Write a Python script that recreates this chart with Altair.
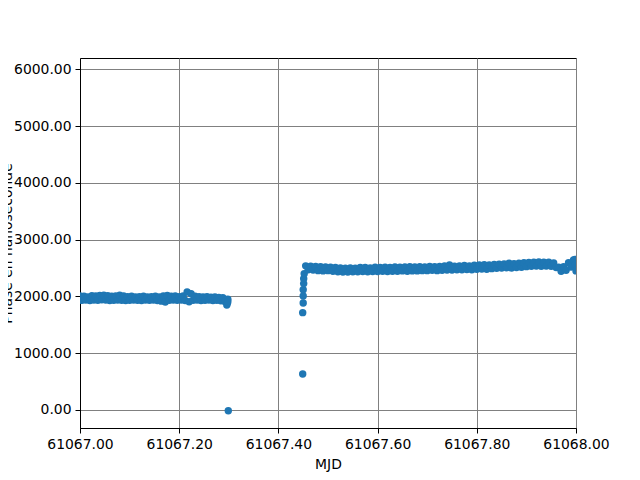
import altair as alt
import pandas as pd

# ---- data ----
seg1_mjd = [
    61067.000, 61067.004, 61067.008, 61067.012, 61067.016, 61067.020, 61067.024, 61067.028,
    61067.032, 61067.036, 61067.040, 61067.044, 61067.048, 61067.052, 61067.056, 61067.060,
    61067.064, 61067.068, 61067.072, 61067.076, 61067.080, 61067.084, 61067.088, 61067.092,
    61067.096, 61067.100, 61067.104, 61067.108, 61067.112, 61067.116, 61067.120, 61067.124,
    61067.128, 61067.132, 61067.136, 61067.140, 61067.144, 61067.148, 61067.152, 61067.156,
    61067.160, 61067.164, 61067.168, 61067.172, 61067.176, 61067.180, 61067.184, 61067.188,
    61067.192, 61067.196, 61067.200, 61067.204, 61067.208, 61067.212, 61067.216, 61067.220,
    61067.224, 61067.228, 61067.232, 61067.236, 61067.240, 61067.244, 61067.248, 61067.252,
    61067.256, 61067.260, 61067.264, 61067.268, 61067.272, 61067.276, 61067.280, 61067.284,
    61067.288, 61067.292, 61067.296, 61067.297, 61067.298, 61067.298,
]
seg1_phase = [
    2005, 1930, 2000, 1935, 1990, 1925, 2010, 1935,
    2005, 1930, 2015, 1940, 2020, 1935, 2010, 1925,
    2000, 1930, 2005, 1935, 2020, 1930, 2005, 1925,
    1995, 1930, 2000, 1935, 1990, 1930, 1995, 1925,
    2000, 1935, 1990, 1930, 1995, 1935, 2000, 1925,
    1990, 1915, 2005, 1900, 2015, 1930, 2000, 1935,
    2005, 1930, 1995, 1935, 2005, 1925, 2075, 1905,
    2045, 1930, 2000, 1935, 1995, 1925, 1990, 1930,
    1995, 1935, 1985, 1925, 1990, 1930, 1980, 1920,
    1975, 1910, 1845, 1880, 1950, 1905,
]

jump_mjd = [61067.299, 61067.449, 61067.449, 61067.450, 61067.450, 61067.450,
            61067.451, 61067.451, 61067.452]
jump_phase = [-18, 630, 1712, 1883, 2007, 2118, 2224, 2312, 2400]

seg2_mjd = [
    61067.455, 61067.460, 61067.465, 61067.470, 61067.475, 61067.480, 61067.485, 61067.490,
    61067.495, 61067.500, 61067.505, 61067.510, 61067.515, 61067.520, 61067.525, 61067.530,
    61067.535, 61067.540, 61067.545, 61067.550, 61067.555, 61067.560, 61067.565, 61067.570,
    61067.575, 61067.580, 61067.585, 61067.590, 61067.595, 61067.600, 61067.605, 61067.610,
    61067.615, 61067.620, 61067.625, 61067.630, 61067.635, 61067.640, 61067.645, 61067.650,
    61067.655, 61067.660, 61067.665, 61067.670, 61067.675, 61067.680, 61067.685, 61067.690,
    61067.695, 61067.700, 61067.705, 61067.710, 61067.715, 61067.720, 61067.725, 61067.730,
    61067.735, 61067.740, 61067.745, 61067.750, 61067.755, 61067.760, 61067.765, 61067.770,
    61067.775, 61067.780, 61067.785, 61067.790, 61067.795, 61067.800, 61067.805, 61067.810,
    61067.815, 61067.820, 61067.825, 61067.830, 61067.835, 61067.840, 61067.845, 61067.850,
    61067.855, 61067.860, 61067.865, 61067.870, 61067.875, 61067.880, 61067.885, 61067.890,
    61067.895, 61067.900, 61067.905, 61067.910, 61067.915, 61067.920, 61067.925, 61067.930,
    61067.935, 61067.940, 61067.945, 61067.950, 61067.955, 61067.960, 61067.965, 61067.970,
    61067.975, 61067.980, 61067.985, 61067.990, 61067.995, 61068.000, 61067.998, 61067.999,
]
seg2_phase = [
    2537, 2468, 2532, 2463, 2527, 2453, 2522, 2448,
    2517, 2453, 2512, 2443, 2507, 2433, 2502, 2428,
    2497, 2428, 2502, 2433, 2497, 2433, 2507, 2438,
    2507, 2433, 2502, 2438, 2512, 2438, 2507, 2443,
    2512, 2438, 2507, 2443, 2517, 2443, 2512, 2448,
    2517, 2443, 2522, 2448, 2517, 2448, 2522, 2453,
    2517, 2453, 2527, 2458, 2522, 2453, 2527, 2458,
    2537, 2463, 2552, 2463, 2532, 2468, 2537, 2468,
    2542, 2473, 2537, 2468, 2547, 2478, 2552, 2483,
    2557, 2478, 2552, 2488, 2562, 2493, 2567, 2498,
    2572, 2503, 2582, 2498, 2577, 2508, 2582, 2513,
    2592, 2523, 2597, 2528, 2602, 2533, 2607, 2528,
    2602, 2533, 2602, 2528, 2587, 2508, 2512, 2443,
    2522, 2458, 2592, 2518, 2642, 2448, 2650, 2560,
]

x_ticks = [61067.0, 61067.2, 61067.4, 61067.6, 61067.8, 61068.0]
y_ticks = [0, 1000, 2000, 3000, 4000, 5000, 6000]

df = pd.DataFrame({
    "MJD": seg1_mjd + jump_mjd + seg2_mjd,
    "phase": seg1_phase + jump_phase + seg2_phase,
})

FONT = "DejaVu Sans"

chart = alt.Chart(df).mark_circle(
    size=55, color="#1f77b4", opacity=1, clip=True
).encode(
    x=alt.X(
        "MJD:Q",
        scale=alt.Scale(domain=[61067.0, 61068.0], nice=False, zero=False),
        axis=alt.Axis(
            title="MJD", values=x_ticks, format=".2f",
            titleY=40.5, titleBaseline="alphabetic",
        ),
    ),
    y=alt.Y(
        "phase:Q",
        scale=alt.Scale(domain=[-321, 6201], nice=False, zero=False),
        axis=alt.Axis(
            title="Phase en nanoseconde", values=y_ticks, format=".2f",
            titleX=-69, titleY=185, titleAngle=270, titleAlign="center",
            titleBaseline="alphabetic",
        ),
    ),
).properties(
    width=496,
    height=370,
    autosize=alt.AutoSizeParams(type="none"),
    padding={"left": 72, "top": 50, "right": 56, "bottom": 44},
).configure(
    background="white"
).configure_view(
    stroke="black", strokeWidth=1, fill="white"
).configure_axis(
    grid=True, gridColor="#808080", gridWidth=1, gridOpacity=1,
    domainColor="black", domainWidth=1,
    tickColor="black", tickSize=5, tickWidth=1,
    labelFont=FONT, labelFontSize=13.9, labelColor="black", labelPadding=4,
    titleFont=FONT, titleFontSize=13.9, titleColor="black", titleFontWeight="normal",
    labelFlush=False, labelOverlap=False,
)

chart.save("out.html", embed_options={"renderer": "svg", "actions": False})
